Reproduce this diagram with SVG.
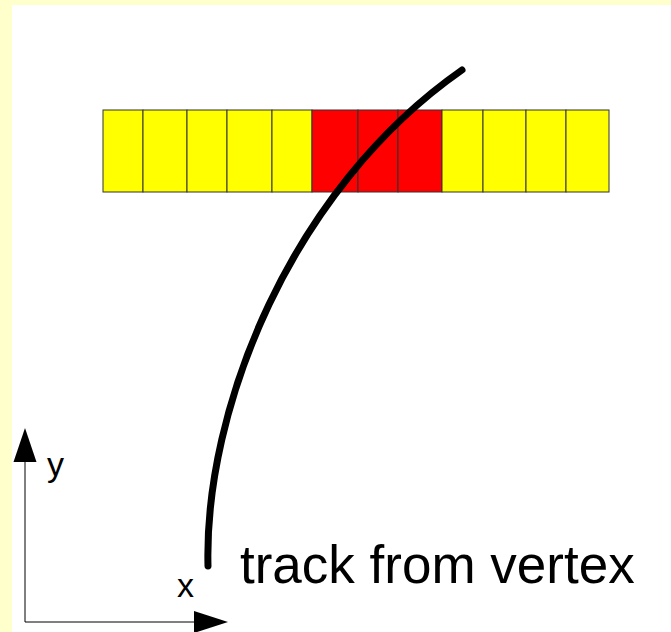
<svg xmlns="http://www.w3.org/2000/svg" width="671" height="632" viewBox="0 0 671 632">
<defs>
<style>
.cy{fill:#ffff00;stroke:#333;stroke-width:1}
.cr{fill:#ff0000;stroke:#333;stroke-width:1}
.ax{stroke:#000;stroke-width:1;fill:none}
.lbl{font-family:"Liberation Sans",Arial,sans-serif;fill:#000}
</style>
</defs>
<rect x="0" y="0" width="671" height="632" fill="#ffffcc"/>
<rect x="12" y="5" width="659" height="627" fill="#ffffff"/>
<g id="detector">
<rect class="cy" x="103" y="110" width="40" height="82"/>
<rect class="cy" x="143" y="110" width="44" height="82"/>
<rect class="cy" x="187" y="110" width="40" height="82"/>
<rect class="cy" x="227" y="110" width="45" height="82"/>
<rect class="cy" x="272" y="110" width="40" height="82"/>
<rect class="cr" x="312" y="110" width="46" height="82"/>
<rect class="cr" x="358" y="110" width="40" height="82"/>
<rect class="cr" x="398" y="110" width="44" height="82"/>
<rect class="cy" x="442" y="110" width="41" height="82"/>
<rect class="cy" x="483" y="110" width="43" height="82"/>
<rect class="cy" x="526" y="110" width="40" height="82"/>
<rect class="cy" x="566" y="110" width="43" height="82"/>
</g>
<g id="track">
<path d="M208,566 C204,410 290,190 462,70" fill="none" stroke="#000" stroke-width="7" stroke-linecap="round"/>
<text class="lbl" x="240" y="583" font-size="53">track from vertex</text>
</g>
<g id="axes">
<line class="ax" x1="25" y1="622" x2="25" y2="460"/>
<polygon points="25,428 13.5,462 36.5,462" fill="#000"/>
<line class="ax" x1="25" y1="622" x2="196" y2="622"/>
<polygon points="228,622 194,611 194,633" fill="#000"/>
<text class="lbl" x="47" y="476" font-size="34">y</text>
<text class="lbl" x="177" y="597" font-size="34">x</text>
</g>
</svg>
